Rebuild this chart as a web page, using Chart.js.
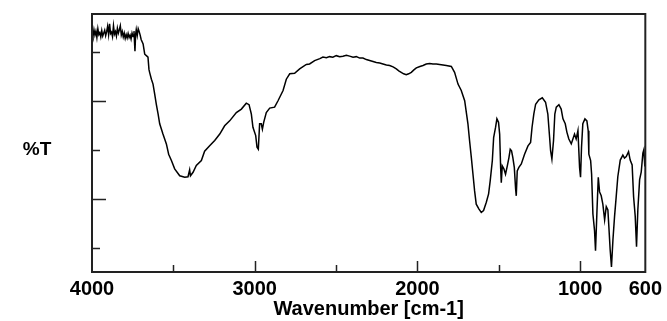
<!DOCTYPE html>
<html>
<head>
<meta charset="utf-8">
<script src="https://cdn.jsdelivr.net/npm/chart.js@4/dist/chart.umd.min.js"></script>
<style>
  html, body { margin: 0; padding: 0; background: #fff; }
  #wrap { width: 667px; height: 321px; position: relative; }
</style>
</head>
<body>
<div id="wrap"><canvas id="ir"></canvas></div>
<script>
// wavenumbers (cm-1) and transmittance
const wavenumbers = [
  4000, 3994, 3988, 3982, 3976, 3970, 3964, 3958, 3952, 3946, 3940, 3934, 3928, 3922, 3916, 3910,
  3904, 3898, 3892, 3886, 3880, 3874, 3868, 3862, 3856, 3850, 3844, 3838, 3832, 3826, 3820, 3814,
  3808, 3802, 3796, 3790, 3784, 3778, 3772, 3766, 3760, 3754, 3748, 3742, 3736, 3732, 3728, 3722,
  3716, 3710, 3704, 3698, 3686, 3676, 3666, 3656, 3650, 3646, 3635, 3625, 3615, 3605, 3594, 3584,
  3564, 3543, 3529, 3512, 3492, 3461, 3430, 3410, 3400, 3395, 3379, 3359, 3328, 3308, 3277, 3246,
  3215, 3185, 3154, 3113, 3082, 3052, 3035, 3021, 3011, 2994, 2986, 2978, 2970, 2960, 2953, 2945,
  2929, 2908, 2878, 2857, 2826, 2806, 2785, 2755, 2724, 2683, 2663, 2632, 2600, 2581, 2560, 2540,
  2520, 2499, 2478, 2458, 2437, 2417, 2396, 2376, 2355, 2335, 2314, 2294, 2273, 2253, 2232, 2212,
  2191, 2171, 2150, 2130, 2115, 2100, 2085, 2069, 2054, 2038, 2022, 2007, 1985, 1966, 1946, 1925,
  1905, 1884, 1864, 1843, 1823, 1792, 1772, 1751, 1731, 1710, 1690, 1680, 1669, 1659, 1649, 1639,
  1622, 1608, 1594, 1577, 1563, 1553, 1540, 1532, 1520, 1512, 1502, 1495, 1489, 1485, 1479, 1469,
  1459, 1448, 1438, 1430, 1422, 1414, 1405, 1397, 1393, 1387, 1377, 1362, 1342, 1321, 1305, 1296,
  1285, 1274, 1254, 1233, 1213, 1199, 1188, 1182, 1174, 1164, 1156, 1147, 1131, 1117, 1106, 1092,
  1082, 1070, 1055, 1045, 1035, 1025, 1014, 1004, 998, 992, 984, 971, 959, 951, 947, 936,
  930, 922, 912, 906, 897, 889, 881, 871, 861, 850, 840, 830, 824, 816, 808, 799,
  789, 779, 769, 754, 738, 728, 717, 703, 693, 681, 672, 662, 654, 646, 635, 625,
  615, 609, 603, 600
];
const transmittance = [
  54.0, 53.2, 54.6, 53.5, 54.3, 53.0, 54.8, 53.6, 54.0, 53.1, 54.4, 53.3, 53.9, 54.5, 53.4, 54.2,
  55.3, 53.6, 55.8, 53.8, 54.1, 53.2, 55.4, 53.7, 54.2, 53.3, 54.9, 53.9, 54.6, 55.4, 53.5, 54.2,
  53.1, 53.9, 52.8, 53.6, 52.9, 53.8, 53.0, 53.5, 52.7, 53.9, 53.2, 54.3, 50.2, 53.6, 54.6, 53.4,
  54.8, 54.2, 53.5, 52.6, 51.7, 49.6, 49.3, 49.0, 46.5, 45.9, 44.5, 43.5, 41.5, 39.4, 37.4, 35.4,
  33.3, 31.3, 29.2, 27.9, 26.2, 24.8, 24.5, 24.6, 26.0, 24.8, 25.5, 26.9, 27.9, 29.8, 30.9, 32.0,
  33.3, 35.0, 36.0, 37.7, 38.4, 39.6, 39.3, 37.4, 34.7, 33.0, 30.6, 30.2, 35.4, 35.4, 34.3, 35.7,
  37.7, 38.6, 38.8, 40.1, 42.2, 44.5, 45.6, 45.7, 46.6, 47.5, 47.6, 48.3, 48.7, 49.0, 48.9, 49.1,
  49.0, 49.3, 49.1, 49.2, 49.4, 49.2, 49.0, 49.1, 48.8, 48.8, 48.5, 48.3, 48.1, 47.9, 47.8, 47.6,
  47.4, 47.3, 47.0, 46.6, 46.2, 45.9, 45.6, 45.4, 45.6, 45.9, 46.4, 46.8, 47.1, 47.3, 47.6, 47.7,
  47.6, 47.6, 47.5, 47.4, 47.3, 47.1, 45.9, 43.5, 42.2, 40.1, 35.4, 32.0, 28.5, 25.1, 21.7, 19.0,
  18.0, 17.3, 17.7, 19.4, 21.1, 23.8, 27.9, 32.6, 34.7, 36.4, 35.7, 33.3, 26.5, 23.4, 26.8, 26.2,
  25.1, 26.8, 28.5, 30.2, 29.9, 28.5, 26.5, 22.1, 20.7, 25.8, 26.5, 27.2, 29.2, 30.9, 31.6, 34.7,
  37.4, 39.4, 40.3, 40.7, 39.8, 37.4, 32.6, 29.9, 28.2, 32.0, 37.4, 38.8, 39.3, 38.4, 36.4, 35.4,
  33.7, 32.3, 31.3, 32.3, 33.3, 32.3, 34.0, 26.5, 24.5, 30.6, 35.4, 36.4, 36.0, 34.0, 29.2, 27.9,
  25.1, 17.0, 13.6, 9.5, 17.7, 24.5, 21.5, 20.7, 19.0, 15.8, 18.5, 17.8, 14.4, 9.7, 6.2, 11.7,
  16.5, 20.5, 24.6, 28.0, 29.0, 28.4, 28.7, 29.7, 28.0, 27.0, 20.5, 16.5, 10.3, 17.8, 24.0, 25.6,
  29.4, 30.1, 26.7, 28.5
];

const xTickLabels = [4000, 3000, 2000, 1000, 600];
const xTickMarks = [3500, 3000, 2500, 2000, 1500, 1000];
const yTickMarks = [10, 20, 30, 40, 50];

Chart.defaults.font.family = "'Liberation Sans', Arial, sans-serif";
Chart.defaults.color = "#000";

// frame, inward tick marks and the horizontal %T label
const frameTicks = {
    id: "frameTicks",
    afterDraw(chart){
        const ctx = chart.ctx;
        const area = chart.chartArea;
        const x = chart.scales.x;
        const y = chart.scales.y;
        ctx.save();
        ctx.strokeStyle = "#222";
        ctx.lineWidth = 2;
        ctx.strokeRect(area.left, area.top, area.right - area.left, area.bottom - area.top);

        ctx.lineWidth = 1.5;
        ctx.beginPath();
        xTickMarks.forEach(v => {
            const px = Math.round(x.getPixelForValue(v)) + 0.5;
            const len = v % 1000 === 0 ? 11 : 7;
            ctx.moveTo(px, area.bottom);
            ctx.lineTo(px, area.bottom - len);
        });
        yTickMarks.forEach(v => {
            const py = Math.round(y.getPixelForValue(v)) + 0.5;
            const len = v % 20 === 0 ? 14 : 8;
            ctx.moveTo(area.left, py);
            ctx.lineTo(area.left + len, py);
        });
        ctx.stroke();

        ctx.fillStyle = "#000";
        ctx.font = "bold 19px 'Liberation Sans', Arial, sans-serif";
        ctx.textAlign = "center";
        ctx.textBaseline = "middle";
        ctx.fillText("%T", 37, y.getPixelForValue(30));
        ctx.restore();
    }
};

new Chart(document.getElementById("ir"), {
    type: "line",
    data: {
        datasets: [{
            data: wavenumbers.map((w, i) => ({ x: w, y: transmittance[i] })),
            borderColor: "#000",
            borderWidth: 1.5,
            pointRadius: 0,
            tension: 0,
            fill: false
        }]
    },
    options: {
        responsive: true,
        maintainAspectRatio: false,
        animation: false,
        layout: { padding: { left: 0, top: 14, right: 21, bottom: 0 } },
        plugins: {
            legend: { display: false },
            tooltip: { enabled: false }
        },
        scales: {
            x: {
                type: "linear",
                reverse: true,
                min: 600,
                max: 4000,
                afterBuildTicks: (s) => { s.ticks = xTickLabels.map(v => ({ value: v })); },
                afterFit: (s) => { s.height = 49; },
                grid: { display: false, drawTicks: false },
                border: { display: false },
                ticks: {
                    autoSkip: false,
                    maxRotation: 0,
                    padding: 5,
                    font: { size: 20, weight: "bold" },
                    callback: (v) => String(v)
                },
                title: {
                    display: true,
                    text: "Wavenumber [cm-1]",
                    font: { size: 20, weight: "bold" },
                    padding: { top: 0, bottom: 0 }
                }
            },
            y: {
                min: 5.16,
                max: 57.8,
                afterFit: (s) => { s.width = 92; },
                grid: { display: false, drawTicks: false },
                border: { display: false },
                ticks: { display: false }
            }
        }
    },
    plugins: [frameTicks]
});
</script>
</body>
</html>
